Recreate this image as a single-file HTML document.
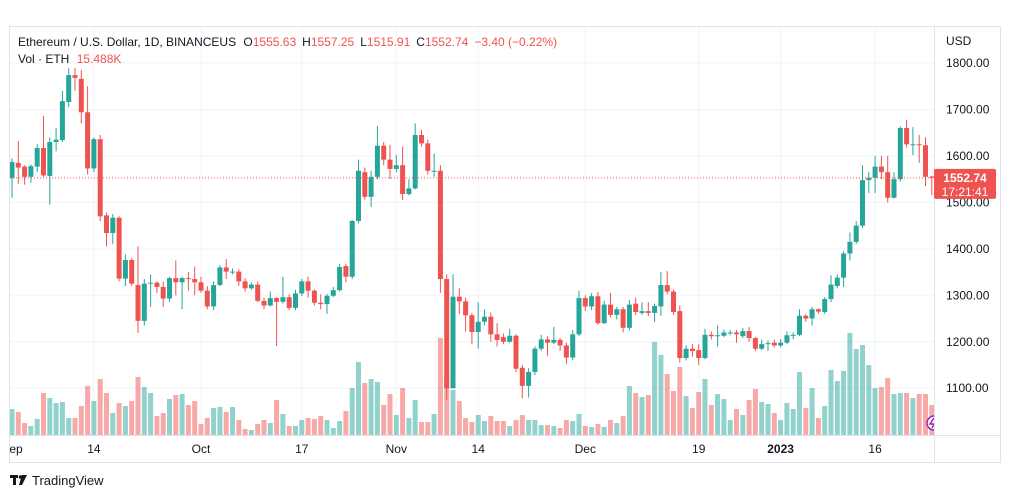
<!DOCTYPE html>
<html><head><meta charset="utf-8">
<style>
body{margin:0;background:#fff;width:1012px;height:498px;overflow:hidden;font-family:"Liberation Sans",sans-serif;}
svg text{font-family:"Liberation Sans",sans-serif;}
</style></head>
<body>
<svg id="chart" width="1012" height="498" viewBox="0 0 1012 498" xmlns="http://www.w3.org/2000/svg">
<rect x="9.5" y="26.5" width="991" height="436" fill="#fff" stroke="#e0e3eb"/>
<defs><clipPath id="pc"><rect x="10" y="27" width="924" height="408"/></clipPath></defs>
<g id="grid"></g>
<g id="vols" clip-path="url(#pc)"></g>
<g id="candles" clip-path="url(#pc)"></g>
<g id="axes"></g>
<text x="18" y="46" font-size="12" fill="#131722">Ethereum / U.S. Dollar, 1D, BINANCEUS <tspan dx="4">O</tspan><tspan fill="#ef5350">1555.63</tspan><tspan dx="6">H</tspan><tspan fill="#ef5350">1557.25</tspan><tspan dx="6">L</tspan><tspan fill="#ef5350">1515.91</tspan><tspan dx="6">C</tspan><tspan fill="#ef5350">1552.74</tspan><tspan dx="6" fill="#ef5350">−3.40 (−0.22%)</tspan></text>
<text x="18" y="63" font-size="12" fill="#131722">Vol · ETH <tspan dx="4" fill="#ef5350">15.488K</tspan></text>
<text x="946" y="45" font-size="12" fill="#131722">USD</text>
<g>
<rect x="10" y="475" width="8" height="3" fill="#131722"/><rect x="13" y="475" width="3" height="10" fill="#131722"/>
<circle cx="20.5" cy="477" r="1.8" fill="#131722"/><polygon points="22,475 27,475 22,485 19,485" fill="#131722"/>
<text x="32" y="485" font-size="13" fill="#131722">TradingView</text></g>
</svg>
<script>
const opens=[1552,1585,1577,1555,1577,1617,1557,1630,1634,1716,1774,1766,1694,1573,1636,1472,1434,1467,1336,1376,1322,1245,1325,1327,1318,1293,1337,1328,1337,1335,1328,1310,1276,1322,1360,1351,1351,1330,1315,1323,1288,1278,1294,1286,1296,1273,1304,1330,1310,1284,1281,1299,1311,1363,1340,1460,1565,1512,1555,1622,1592,1572,1580,1518,1530,1645,1627,1568,1568,1335,1100,1297,1287,1257,1221,1243,1254,1216,1210,1200,1213,1144,1105,1135,1185,1205,1198,1204,1192,1166,1216,1294,1276,1298,1240,1280,1258,1270,1230,1282,1262,1266,1262,1276,1322,1308,1266,1165,1185,1182,1165,1215,1212,1213,1220,1220,1212,1223,1208,1185,1197,1198,1192,1198,1215,1215,1256,1250,1270,1264,1292,1320,1338,1390,1415,1450,1548,1553,1577,1565,1510,1550,1660,1625,1625,1623,1555.63];
const closes=[1587,1575,1555,1578,1617,1558,1630,1635,1718,1774,1768,1694,1573,1636,1470,1434,1467,1336,1376,1325,1245,1325,1327,1318,1293,1337,1328,1337,1335,1328,1310,1276,1322,1360,1351,1351,1330,1315,1323,1288,1278,1294,1286,1296,1273,1304,1330,1310,1284,1281,1299,1311,1361,1340,1460,1568,1512,1555,1622,1592,1572,1580,1518,1530,1645,1627,1568,1568,1335,1100,1297,1287,1257,1221,1243,1254,1216,1204,1200,1213,1142,1105,1135,1185,1205,1198,1204,1192,1166,1216,1294,1276,1298,1240,1280,1258,1270,1230,1280,1264,1266,1262,1277,1322,1308,1264,1165,1185,1180,1165,1215,1212,1214,1220,1220,1216,1223,1208,1185,1195,1197,1192,1198,1214,1215,1256,1250,1270,1265,1292,1323,1338,1390,1415,1450,1548,1553,1577,1565,1510,1550,1660,1625,1625,1623,1555,1552.74];
const highs=[1595,1632,1580,1582,1625,1686,1640,1660,1740,1789,1789,1785,1750,1640,1645,1478,1475,1470,1388,1380,1405,1335,1345,1330,1330,1340,1375,1340,1350,1362,1340,1320,1330,1365,1378,1358,1356,1337,1328,1330,1295,1308,1296,1340,1302,1312,1335,1340,1313,1302,1303,1318,1367,1368,1462,1592,1575,1568,1665,1630,1624,1602,1620,1550,1670,1656,1635,1605,1580,1345,1345,1315,1295,1262,1285,1270,1263,1240,1218,1228,1216,1150,1143,1190,1215,1212,1232,1208,1198,1225,1310,1300,1305,1307,1288,1305,1275,1275,1290,1295,1285,1285,1282,1350,1352,1312,1278,1192,1195,1195,1228,1222,1235,1226,1225,1225,1230,1232,1210,1205,1203,1205,1206,1222,1220,1270,1260,1275,1272,1296,1343,1345,1395,1435,1460,1580,1565,1600,1600,1600,1565,1664,1678,1662,1645,1640,1557.25];
const lows=[1510,1540,1538,1542,1565,1555,1495,1610,1630,1705,1740,1670,1560,1565,1460,1405,1410,1330,1320,1320,1219,1235,1275,1305,1275,1285,1300,1270,1310,1300,1305,1270,1268,1320,1335,1345,1320,1308,1312,1285,1270,1276,1191,1282,1268,1268,1298,1295,1278,1270,1260,1296,1308,1328,1335,1455,1506,1490,1550,1580,1550,1565,1505,1515,1528,1620,1560,1555,1305,1075,1100,1260,1222,1195,1185,1235,1200,1190,1195,1198,1135,1078,1080,1128,1180,1170,1195,1180,1152,1160,1212,1266,1268,1236,1238,1252,1248,1220,1225,1258,1258,1255,1242,1256,1302,1258,1155,1160,1168,1150,1162,1205,1190,1210,1214,1198,1208,1200,1180,1182,1180,1188,1188,1195,1205,1212,1243,1235,1260,1260,1285,1315,1318,1375,1410,1445,1520,1520,1550,1500,1508,1545,1618,1602,1585,1535,1515.91];
const volumes=[26,23,12,9,16,42,37,32,33,17,17,29,49,34,56,42,22,32,29,34,58,48,42,19,22,36,40,41,30,34,11,17,27,28,23,28,15,6,5,11,15,12,35,21,9,9,15,17,16,19,15,7,14,24,47,73,52,56,53,30,41,20,47,17,35,13,13,21,97,56,45,34,17,13,20,14,19,14,14,9,15,20,15,15,10,10,9,7,15,14,21,9,8,11,8,15,12,19,49,42,38,40,93,80,61,44,68,39,27,43,56,30,41,36,15,26,20,35,46,33,31,22,15,32,26,63,27,47,17,29,65,54,64,102,86,90,70,47,48,57,41,42,42,37,41,41,30];
const priceTicks=[1100,1200,1300,1400,1500,1600,1700,1800];
const timeLabels=["Sep","14","Oct","17","Nov","14","Dec","19","2023","16"];
const timeLabelDays=[0,13,30,46,61,74,91,109,122,137];
const lastPrice=1552.74;

const NS="http://www.w3.org/2000/svg";
const xOf=i=>12+6.3*i;
const yOf=p=>63+(1800-p)*0.4646;
const vY=v=>435-v;
function mk(tag,attrs,parent){const e=document.createElementNS(NS,tag);for(const k in attrs)e.setAttribute(k,attrs[k]);parent.appendChild(e);return e;}
const grid=document.getElementById('grid'),vols=document.getElementById('vols'),cg=document.getElementById('candles'),ax=document.getElementById('axes');

priceTicks.forEach(p=>{
  const l=mk('line',{x1:10,x2:934,y1:yOf(p),y2:yOf(p),stroke:'#f0f3fa'},grid);
  
  
  const t=mk('text',{x:946,y:yOf(p)+4,'font-size':12,fill:'#131722'},ax);
  t.textContent=p.toFixed(2);
  
  
});
timeLabels.forEach((s,k)=>{
  const x=xOf(timeLabelDays[k]);
  if(k>0){const l=mk('line',{x1:x,x2:x,y1:27,y2:435,stroke:'#f0f3fa'},grid);
  
  }
  const t=mk('text',{x:x,y:453,'font-size':12,fill:'#131722','text-anchor':'middle','font-weight':s==='2023'?'bold':'normal'},ax);
  t.textContent=s;
  if(k===0)t.setAttribute('clip-path','url(#pc2)');
  
  
});
const cp=mk('clipPath',{id:'pc2'},document.querySelector('defs'));mk('rect',{x:10,y:436,width:100,height:25},cp);

volumes.forEach((v,i)=>{
  const up=closes[i]>=opens[i];
  const r=mk('rect',{x:xOf(i)-2.5,y:vY(v),width:5,height:v,fill:up?'rgba(38,166,154,0.5)':'rgba(239,83,80,0.5)'},vols);
  
  
});
opens.forEach((o,i)=>{
  const c=closes[i],up=c>=o,col=up?'#26a69a':'#ef5350',x=xOf(i);
  const g=mk('g',{},cg);
  
  
  mk('line',{x1:x,x2:x,y1:yOf(highs[i]),y2:yOf(lows[i]),stroke:col,'stroke-width':1},g);
  const yt=yOf(Math.max(o,c)),yb=yOf(Math.min(o,c));
  mk('rect',{x:x-2.5,y:yt,width:5,height:Math.max(1,yb-yt),fill:col},g);
});
const ly=yOf(lastPrice);
const dl=mk('line',{x1:10,x2:934,y1:ly,y2:ly,stroke:'#ef5350','stroke-dasharray':'1 2'},ax);


mk('line',{x1:934.5,x2:934.5,y1:27,y2:462,stroke:'#e0e3eb'},ax);
mk('line',{x1:10,x2:1000,y1:435.5,y2:435.5,stroke:'#e0e3eb'},ax);
const lb=mk('g',{},ax);


mk('rect',{x:934,y:ly-9,width:62,height:30,rx:2,fill:'#ef5350'},lb);
const t1=mk('text',{x:965,y:ly+4,'font-size':12,fill:'#fff','text-anchor':'middle','font-weight':'bold'},lb);t1.textContent=lastPrice.toFixed(2);
const t2=mk('text',{x:965,y:ly+18,'font-size':12,fill:'#fff','text-anchor':'middle'},lb);t2.textContent='17:21:41';
const ic=mk('g',{'clip-path':'url(#pc)'},ax);


mk('circle',{cx:934,cy:423,r:7,fill:'#fff',stroke:'#9c27b0','stroke-width':1.5},ic);
mk('path',{d:'M934 418 L930 424 L934 424 L932 428',stroke:'#9c27b0',fill:'none','stroke-width':1.5},ic);
</script>
</body></html>
